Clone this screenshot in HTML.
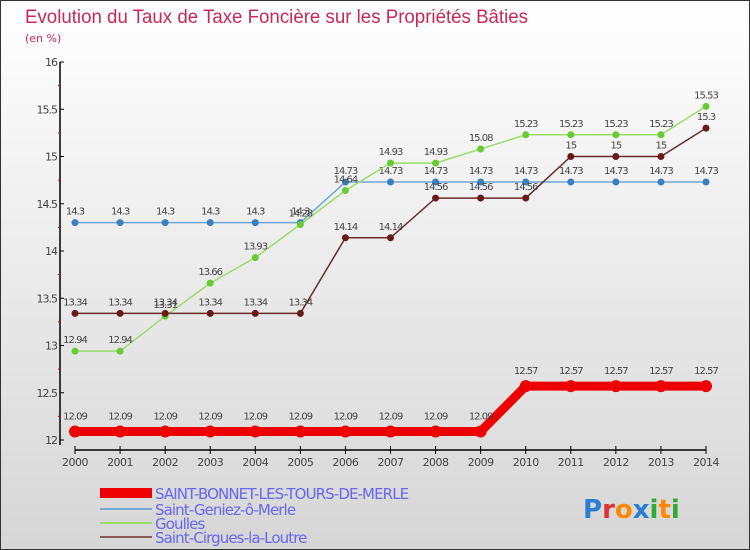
<!DOCTYPE html>
<html><head><meta charset="utf-8"><style>
body{margin:0}
#c{width:750px;height:550px;position:relative;overflow:hidden;font-family:"DejaVu Sans","Liberation Sans",sans-serif}
</style></head><body>
<div id="c">
<svg id="s" width="750" height="550" xmlns="http://www.w3.org/2000/svg">
<defs><linearGradient id="bg" x1="0" y1="0" x2="0" y2="1"><stop offset="0" stop-color="#ffffff"/><stop offset="1" stop-color="#d6d6d6"/></linearGradient></defs>
<rect x="0.5" y="0.5" width="749" height="549" fill="url(#bg)" stroke="#333"/>
<text x="25" y="23" font-size="19" fill="#c8285a" font-family="Liberation Sans, sans-serif" textLength="503" lengthAdjust="spacingAndGlyphs">Evolution du Taux de Taxe Foncière sur les Propriétés Bâties</text>
<text x="25" y="42" font-size="11" fill="#c8285a">(en %)</text>
<g id="g"></g>
</svg>
</div>
<script>
const years=[2000,2001,2002,2003,2004,2005,2006,2007,2008,2009,2010,2011,2012,2013,2014];
const yTicks=[12,12.5,13,13.5,14,14.5,15,15.5,16];
const sBonnet=[12.09,12.09,12.09,12.09,12.09,12.09,12.09,12.09,12.09,12.09,12.57,12.57,12.57,12.57,12.57];
const sGeniez=[14.3,14.3,14.3,14.3,14.3,14.3,14.73,14.73,14.73,14.73,14.73,14.73,14.73,14.73,14.73];
const sGoulles=[12.94,12.94,13.31,13.66,13.93,14.28,14.64,14.93,14.93,15.08,15.23,15.23,15.23,15.23,15.53];
const sCirgues=[13.34,13.34,13.34,13.34,13.34,13.34,14.14,14.14,14.56,14.56,14.56,15,15,15,15.3];
const names=["SAINT-BONNET-LES-TOURS-DE-MERLE","Saint-Geniez-ô-Merle","Goulles","Saint-Cirgues-la-Loutre"];
const NS="http://www.w3.org/2000/svg";
const g=document.getElementById('g');
const X=i=>75+i*(706-75)/(years.length-1);
const Y=v=>440-(v-12)*(440-62)/4;
function el(t,a,p){const e=document.createElementNS(NS,t);for(const k in a)e.setAttribute(k,a[k]);(p||g).appendChild(e);return e;}
let ya=el('line',{x1:60,y1:62,x2:60,y2:445,stroke:'#000','stroke-width':1.5});


let xa=el('line',{x1:75,y1:450,x2:706,y2:450,stroke:'#000','stroke-width':1.5});


yTicks.forEach((v,i)=>{
  el('line',{x1:60,y1:Y(v),x2:64,y2:Y(v),stroke:'#000'});
  if(i<yTicks.length-1) el('line',{x1:58,y1:Y(v+0.25),x2:60,y2:Y(v+0.25),stroke:'#e00'});
  let t=el('text',{x:57,y:Y(v)+4,'font-size':11,'text-anchor':'end',fill:'#444','letter-spacing':'-1'});
  t.textContent=String(v);
  
  
});
years.forEach((y,i)=>{
  el('line',{x1:X(i),y1:446,x2:X(i),y2:454,stroke:'#000'});
  let t=el('text',{x:X(i),y:466,'font-size':11,'text-anchor':'middle',fill:'#444','letter-spacing':'-0.5'});
  t.textContent=y;
  
  
});
const series=[
  {d:sGeniez,c:'#6fa8d8',dot:'#3a7fc0',w:1.5,r:3.5,n:'saint-geniez'},
  {d:sGoulles,c:'#99dd66',dot:'#66cc33',w:1.5,r:3.5,n:'goulles'},
  {d:sCirgues,c:'#6b2a2a',dot:'#6b1a1a',w:1.5,r:3.5,n:'saint-cirgues'},
  {d:sBonnet,c:'#ee0000',dot:'#ee0000',w:9,r:6,n:'saint-bonnet'}
];
series.forEach(s=>{
  let p=el('polyline',{points:s.d.map((v,i)=>X(i)+','+Y(v)).join(' '),fill:'none',stroke:s.c,'stroke-width':s.w});
  
  
  s.d.forEach((v,i)=>{
    let c=el('circle',{cx:X(i),cy:Y(v),r:s.r,fill:s.dot});
    
    
    let t=el('text',{x:X(i),y:Y(v)-(s.r>4?12:8),'font-size':10,'text-anchor':'middle',fill:'#444','letter-spacing':'-1'});
    t.textContent=String(v);
    
    
  });
});
const lc=['#ee0000','#7aaad0','#99dd66','#8a5a5a'],lw=[10,2,2,2],ly=[493,509,523,537];
names.forEach((n,i)=>{
  let l=el('line',{x1:100,y1:ly[i],x2:152,y2:ly[i],stroke:lc[i],'stroke-width':lw[i]});
  
  
  let t=el('text',{x:155,y:ly[i]+6,'font-size':15,fill:'#6666ee','letter-spacing':'-0.9'});
  t.textContent=n;
  
  
});
const logo=[['P','#2a7fd0'],['r','#dd3333'],['o','#ff8800'],['x','#2a7fd0'],['i','#33aa33'],['t','#ff8800'],['i','#33aa33']];
const lg=el('text',{x:583,y:518,'font-size':26,'font-weight':'bold'});


logo.forEach(([ch,col])=>{let ts=el('tspan',{fill:col},lg);ts.textContent=ch;});
</script>
</body></html>
